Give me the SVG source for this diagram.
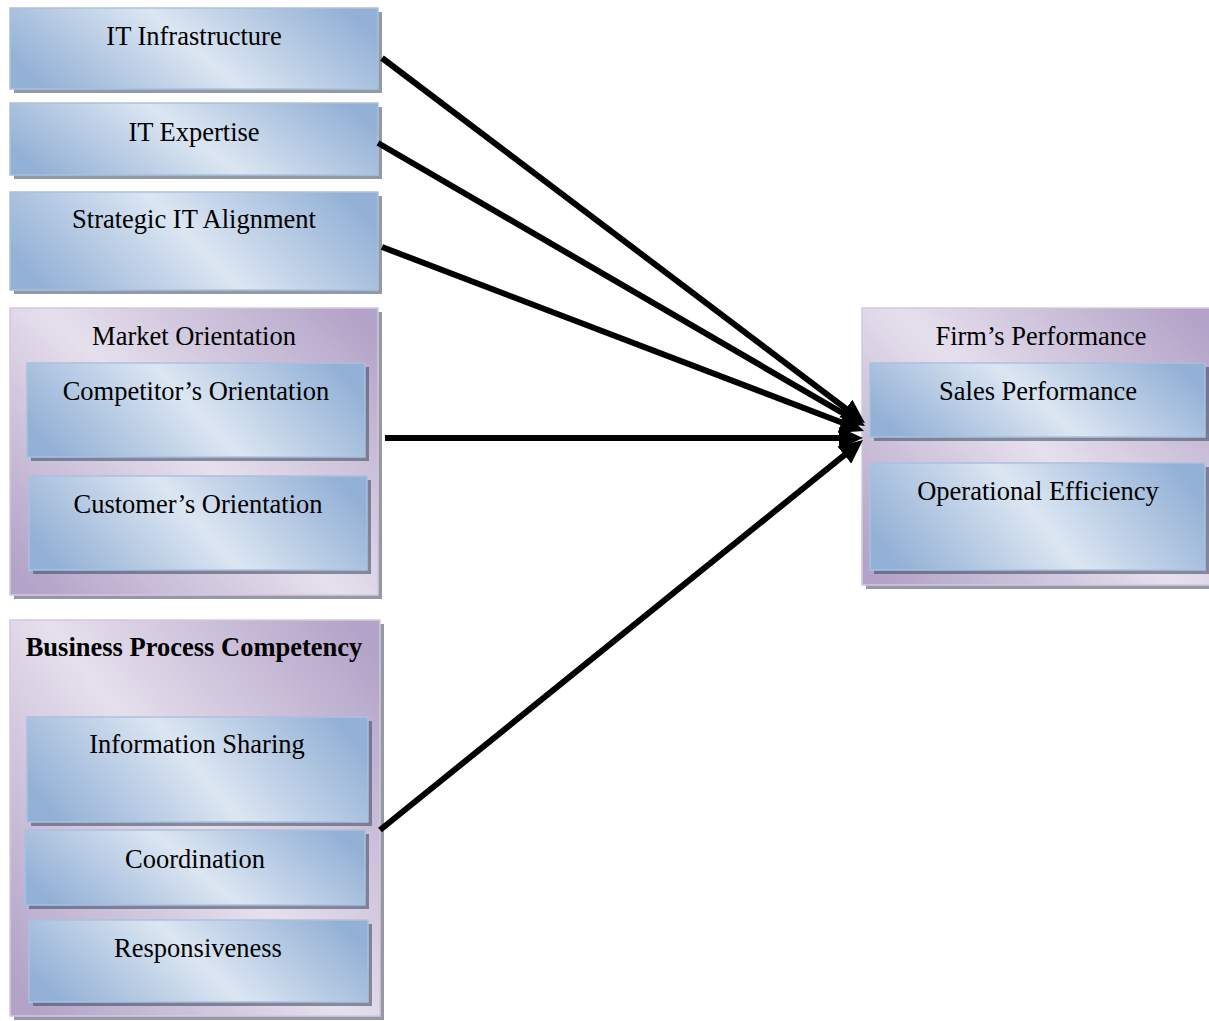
<svg xmlns="http://www.w3.org/2000/svg" width="1209" height="1021" viewBox="0 0 1209 1021">
  <defs>
    <!-- diagonal two-tone fills used by the boxes -->
    <linearGradient id="gBlue" x1="0" y1="0.63" x2="1" y2="0.37">
      <stop offset="0" stop-color="#93b1d6"/>
      <stop offset="0.5" stop-color="#dce6f2"/>
      <stop offset="1" stop-color="#93b1d6"/>
    </linearGradient>
    <linearGradient id="gPurple" x1="0" y1="0.9" x2="1" y2="0.1">
      <stop offset="0" stop-color="#b3a3c8"/>
      <stop offset="0.5" stop-color="#e6e0ed"/>
      <stop offset="1" stop-color="#b3a3c8"/>
    </linearGradient>
    <marker id="arrow" viewBox="0 0 24 22" refX="10" refY="11" markerWidth="24" markerHeight="22" markerUnits="userSpaceOnUse" orient="auto">
      <path d="M0,0 L24,11 L0,22 z" fill="#000"/>
    </marker>
    <style>
      .shadow { fill: #3c465a; fill-opacity: 0.55; }
      .blue { fill: url(#gBlue); stroke: #a9c1df; stroke-width: 1.5; }
      .purple { fill: url(#gPurple); stroke: #d3c9df; stroke-width: 1.5; }
      .label { font-family: "Liberation Serif", "Times New Roman", serif; font-size: 26.5px; fill: #000; text-anchor: middle; }
      .bold { font-weight: bold; }
      .edge { stroke: #000; stroke-width: 6; fill: none; marker-end: url(#arrow); }
    </style>
  </defs>

  <rect width="1209" height="1021" fill="#fff"/>

  <!-- IT capability boxes -->
  <g id="it-infrastructure">
    <rect class="shadow" x="14" y="12" width="368" height="81"/>
    <rect class="blue" x="10" y="8" width="368" height="81"/>
    <text class="label" x="194" y="45">IT Infrastructure</text>
  </g>
  <g id="it-expertise">
    <rect class="shadow" x="14" y="107" width="368" height="72"/>
    <rect class="blue" x="10" y="103" width="368" height="72"/>
    <text class="label" x="194" y="141">IT Expertise</text>
  </g>
  <g id="strategic-it-alignment">
    <rect class="shadow" x="14" y="196" width="368" height="98"/>
    <rect class="blue" x="10" y="192" width="368" height="98"/>
    <text class="label" x="194" y="228">Strategic IT Alignment</text>
  </g>

  <!-- Market orientation group -->
  <g id="market-orientation">
    <rect class="shadow" x="14" y="312" width="368" height="287"/>
    <rect class="purple" x="10" y="308" width="368" height="287"/>
    <text class="label" x="194" y="345">Market Orientation</text>
    <g id="competitors-orientation">
      <rect class="shadow" x="31" y="367" width="338" height="94"/>
      <rect class="blue" x="27" y="363" width="338" height="94"/>
      <text class="label" x="196" y="400">Competitor’s Orientation</text>
    </g>
    <g id="customers-orientation">
      <rect class="shadow" x="33" y="480" width="338" height="94"/>
      <rect class="blue" x="29" y="476" width="338" height="94"/>
      <text class="label" x="198" y="513">Customer’s Orientation</text>
    </g>
  </g>

  <!-- Business process competency group -->
  <g id="business-process-competency">
    <rect class="shadow" x="14" y="624" width="370" height="396"/>
    <rect class="purple" x="10" y="620" width="370" height="396"/>
    <text class="label bold" x="194" y="656">Business Process Competency</text>
    <g id="information-sharing">
      <rect class="shadow" x="31" y="721" width="341" height="105"/>
      <rect class="blue" x="27" y="717" width="341" height="105"/>
      <text class="label" x="197" y="753">Information Sharing</text>
    </g>
    <g id="coordination">
      <rect class="shadow" x="29" y="834" width="340" height="75"/>
      <rect class="blue" x="25" y="830" width="340" height="75"/>
      <text class="label" x="195" y="868">Coordination</text>
    </g>
    <g id="responsiveness">
      <rect class="shadow" x="33" y="924" width="339" height="82"/>
      <rect class="blue" x="29" y="920" width="339" height="82"/>
      <text class="label" x="198" y="957">Responsiveness</text>
    </g>
  </g>

  <!-- Firm performance group -->
  <g id="firms-performance">
    <rect class="shadow" x="866" y="312" width="347" height="277"/>
    <rect class="purple" x="862" y="308" width="349" height="277"/>
    <text class="label" x="1041" y="345">Firm’s Performance</text>
    <g id="sales-performance">
      <rect class="shadow" x="874" y="367" width="335" height="74"/>
      <rect class="blue" x="870" y="363" width="335" height="74"/>
      <text class="label" x="1038" y="400">Sales Performance</text>
    </g>
    <g id="operational-efficiency">
      <rect class="shadow" x="874" y="467" width="335" height="107"/>
      <rect class="blue" x="870" y="463" width="335" height="107"/>
      <text class="label" x="1038" y="500">Operational Efficiency</text>
    </g>
  </g>

  <!-- connectors -->
  <g id="connectors">
    <line class="edge" x1="382" y1="58" x2="853.8" y2="414.6"/>
    <line class="edge" x1="378" y1="143" x2="852.9" y2="419.0"/>
    <line class="edge" x1="382" y1="247" x2="850.9" y2="426.0"/>
    <line class="edge" x1="385" y1="438" x2="849" y2="438"/>
    <line class="edge" x1="380" y1="830" x2="852.1" y2="448.8"/>
  </g>
</svg>
